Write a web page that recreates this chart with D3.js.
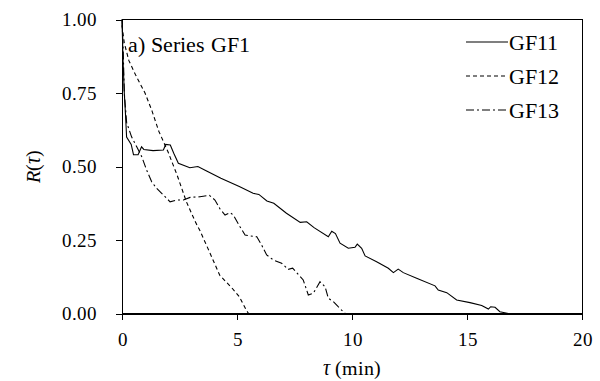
<!DOCTYPE html>
<html>
<head>
<meta charset="utf-8">
<script src="https://cdn.jsdelivr.net/npm/d3@7"></script>
<style>
  @font-face { font-family: 'ChartSerif'; src: local('Liberation Serif'), local('LiberationSerif'), local('Tinos'); font-style: normal; }
  @font-face { font-family: 'ChartSerif'; src: local('Liberation Serif Italic'), local('LiberationSerif-Italic'); font-style: italic; }
  text, tspan { font-family: 'ChartSerif', 'Liberation Serif', 'Times New Roman', Times; }
</style>
</head>
<body style="margin:0">
<div id="c"></div>
<script>
// Values
const tauGF11 = [0, 0.05, 0.1, 0.15, 0.2, 0.4, 0.5, 0.7, 0.85, 0.95, 1.35, 1.8, 1.9, 2.1, 2.25, 2.45, 2.95, 3.3, 3.7, 4.3, 5.1, 5.7, 5.95, 6.3, 6.6, 7.15, 7.75, 8.03, 8.35, 8.97, 9.12, 9.28, 9.48, 9.84, 10.13, 10.23, 10.42, 10.57, 11.07, 11.58, 11.8, 12.01, 12.23, 12.81, 13.61, 13.75, 14.12, 14.55, 15.13, 15.64, 15.93, 16.03, 16.22, 16.43, 16.8]
const rGF11 = [1.0, 0.85, 0.75, 0.68, 0.6, 0.575, 0.54, 0.54, 0.567, 0.558, 0.554, 0.556, 0.575, 0.573, 0.545, 0.511, 0.496, 0.5, 0.484, 0.46, 0.432, 0.409, 0.405, 0.383, 0.375, 0.341, 0.31, 0.312, 0.292, 0.261, 0.28, 0.272, 0.239, 0.222, 0.225, 0.236, 0.222, 0.196, 0.176, 0.154, 0.139, 0.151, 0.139, 0.12, 0.094, 0.08, 0.071, 0.046, 0.037, 0.027, 0.015, 0.023, 0.021, 0.006, 0]

const tauGF12 = [0, 0.1, 0.3, 0.6, 1.0, 1.3, 1.6, 2.0, 2.4, 2.8, 3.2, 3.4, 3.8, 4.25, 4.8, 5.1, 5.4, 5.5]
const rGF12 = [0.98, 0.92, 0.86, 0.81, 0.75, 0.69, 0.62, 0.55, 0.47, 0.38, 0.31, 0.28, 0.21, 0.13, 0.085, 0.057, 0.012, 0]

const tauGF13 = [0, 0.05, 0.1, 0.2, 0.42, 0.64, 0.86, 1.07, 1.29, 1.5, 1.8, 2.09, 2.38, 2.67, 2.96, 3.39, 3.8, 4.04, 4.26, 4.48, 4.7, 4.84, 5.13, 5.35, 5.57, 5.86, 6.07, 6.29, 6.58, 6.94, 7.23, 7.42, 7.59, 7.88, 8.1, 8.32, 8.61, 8.83, 8.97, 9.19, 9.4, 9.62, 9.7]
const rGF13 = [1.0, 0.9, 0.75, 0.65, 0.6, 0.567, 0.533, 0.488, 0.448, 0.426, 0.403, 0.38, 0.386, 0.386, 0.395, 0.397, 0.402, 0.386, 0.356, 0.335, 0.343, 0.335, 0.295, 0.267, 0.264, 0.261, 0.233, 0.199, 0.182, 0.171, 0.15, 0.154, 0.139, 0.114, 0.063, 0.069, 0.108, 0.091, 0.052, 0.04, 0.023, 0.006, 0]

const seriesNames = ['GF11', 'GF12', 'GF13']
const xTicks = [0, 5, 10, 15, 20]
const yTicks = [0, 0.25, 0.5, 0.75, 1]

const FONT = 'Times New Roman'

const serif = (sel, size) => sel
  .attr('font-family', FONT)
  .attr('font-size', size)
  .attr('fill', '#000')

const width = 600
const height = 381
const margin = { top: 19.5, right: 18, bottom: 67.5, left: 122 }
const innerWidth = width - margin.left - margin.right
const innerHeight = height - margin.top - margin.bottom

const svg = d3.select('#c')
  .append('svg')
  .attr('width', width)
  .attr('height', height)
  .attr('font-family', FONT)

const g = svg.append('g')
  .attr('transform', `translate(${margin.left}, ${margin.top})`)

const x = d3.scaleLinear().domain([0, 20]).range([0, innerWidth])
const y = d3.scaleLinear().domain([0, 1]).range([innerHeight, 0])

// Frame
g.append('rect')
  .attr('x', 0).attr('y', 0)
  .attr('width', innerWidth).attr('height', innerHeight)
  .attr('fill', 'none')
  .attr('stroke', '#000')
  .attr('shape-rendering', 'crispEdges')

// Bottom axis
const xAxis = g.append('g')
  .attr('transform', `translate(0, ${innerHeight})`)
  .call(d3.axisBottom(x).tickValues(xTicks).tickSize(6).tickSizeOuter(0).tickPadding(13).tickFormat(d3.format('d')))

// Left axis
const yAxis = g.append('g')
  .call(d3.axisLeft(y).tickValues(yTicks).tickSize(6).tickSizeOuter(0).tickPadding(19).tickFormat(d3.format('.2f')))

;[xAxis, yAxis].forEach(a => {
  a.attr('font-family', FONT).attr('font-size', 19)
  a.selectAll('line').attr('stroke', '#000').attr('shape-rendering', 'crispEdges')
  a.select('.domain').attr('stroke', '#000').attr('shape-rendering', 'crispEdges')
  serif(a.selectAll('text'), 19)
})

// Axis titles
const xt = serif(svg.append('text'), 20)
  .attr('x', margin.left + x(10))
  .attr('y', 375)
  .attr('text-anchor', 'middle')
xt.append('tspan').attr('font-style', 'italic').text('τ')
xt.append('tspan').text(' (min)')

const yt = serif(svg.append('text'), 20)
  .attr('transform', `translate(40, ${margin.top + y(0.5)}) rotate(-90)`)
  .attr('text-anchor', 'middle')
yt.append('tspan').attr('font-style', 'italic').text('R')
yt.append('tspan').text('(')
yt.append('tspan').attr('font-style', 'italic').text('τ')
yt.append('tspan').text(')')

// Panel label
serif(svg.append('text'), 22)
  .attr('x', 128)
  .attr('y', 52)
  .text('a) Series GF1')

// Series
const dashes = ['none', '4,3', '8,3,2,3']
const taus = [tauGF11, tauGF12, tauGF13]
const rs = [rGF11, rGF12, rGF13]

const line = d3.line()
  .x(d => x(d[0]))
  .y(d => y(d[1]))

taus.forEach((t, i) => {
  g.append('path')
    .datum(t.map((v, j) => [v, rs[i][j]]))
    .attr('fill', 'none')
    .attr('stroke', '#000')
    .attr('stroke-width', 1.1)
    .attr('stroke-dasharray', dashes[i])
    .attr('d', line)
})

// Legend
seriesNames.forEach((name, i) => {
  const ly = 42 + i * 34
  svg.append('line')
    .attr('x1', 466).attr('x2', 508)
    .attr('y1', ly).attr('y2', ly)
    .attr('stroke', '#000')
    .attr('stroke-width', 1.1)
    .attr('stroke-dasharray', dashes[i])
  serif(svg.append('text'), 22)
    .attr('x', 509)
    .attr('y', ly + 8)
    .text(name)
})
</script>
</body>
</html>
